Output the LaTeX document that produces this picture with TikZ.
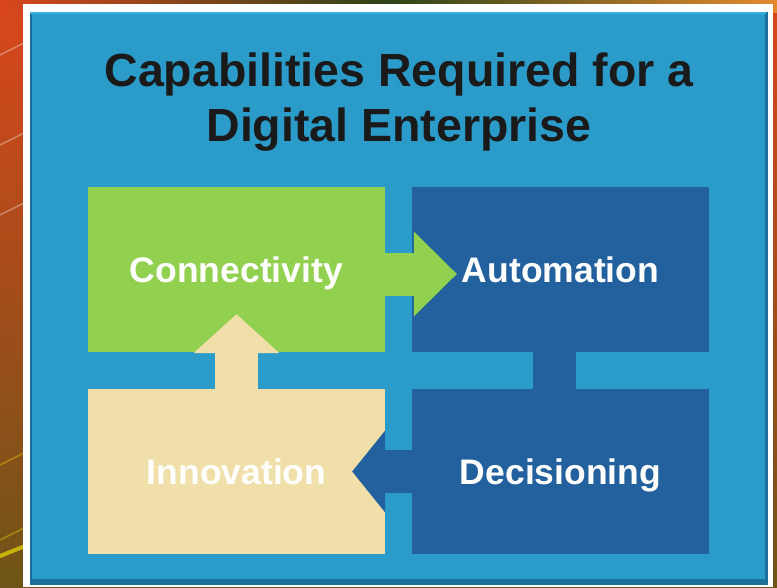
\documentclass[tikz,border=0pt]{standalone}
\usepackage{fontspec}
\setmainfont{Liberation Sans}
\usetikzlibrary{arrows.meta}

\definecolor{panelblue}{HTML}{2B9CC9}
\definecolor{paneledge}{HTML}{1C6F99}
\definecolor{panellight}{HTML}{3CB0E2}
\definecolor{boxblue}{HTML}{22619E}
\definecolor{boxgreen}{HTML}{92D050}
\definecolor{boxbeige}{HTML}{F0DFA9}
\definecolor{titleblack}{HTML}{1A1A1A}
\definecolor{backred}{HTML}{D9461C}
\definecolor{backolive}{HTML}{6E5418}
\definecolor{backgreen}{HTML}{2C4418}
\definecolor{backorange}{HTML}{E48A2E}

\tikzset{
  box/.style={minimum width=297pt, minimum height=165pt, inner sep=0pt,
    text=white, font=\fontsize{35.5}{42}\selectfont\bfseries,
    text height=25.5pt, text depth=0pt},
  title/.style={anchor=north, align=center, inner sep=0pt, text=titleblack,
    font=\fontsize{46.5}{55}\selectfont\bfseries},
  flow/.style={line width=43pt}
}

\begin{document}
\begin{tikzpicture}[x=1pt, y=-1pt]
  \useasboundingbox (0,0) rectangle (777,587);

  \shade[top color=backred, bottom color=backolive] (0,0) rectangle (777,587);
  \shade[left color=backred, right color=backorange, middle color=backgreen] (0,0) rectangle (777,12);
  \foreach \y/\c in {60/white, 150/white, 220/white, 470/yellow, 545/yellow}
    \draw[\c, opacity=0.35, line width=1.5pt] (-10,\y) -- (40,\y-25);
  \draw[yellow, opacity=0.6, line width=4pt] (-10,560) -- (40,540);

  \fill[white] (23,4) rectangle (773,587);
  \fill[paneledge] (30,12) rectangle (768,585);
  \fill[panellight] (30,12) rectangle (766,14);
  \fill[panelblue] (32,14) rectangle (765,579);

  \node[title] (title) at (399,53) {Capabilities Required for a\\Digital Enterprise};

  \node[box, fill=boxgreen] (conn) at (236.5,269.5) {Connectivity};
  \node[box, fill=boxblue] (auto) at (560.5,269.5) {Automation};
  \node[box, fill=boxbeige] (innov) at (236.5,471.5) {Innovation};
  \node[box, fill=boxblue] (decis) at (560.5,471.5) {Decisioning};

  \draw[flow, boxgreen, -{Triangle[length=43pt, width=85pt, line width=0pt]}]
    ([yshift=-4.5pt]conn.east) -- ([xshift=45pt, yshift=-4.5pt]auto.west);
  \draw[flow, boxblue] ([xshift=-6pt]auto.south) -- ([xshift=-6pt]decis.north);
  \draw[flow, boxblue, -{Triangle[length=33pt, width=82pt, line width=0pt]}]
    (decis.west) -- ([xshift=-33pt]innov.east);
  \draw[flow, boxbeige, -{Triangle[length=39pt, width=86pt, line width=0pt]}]
    (innov.north) -- ([yshift=38pt]conn.south);
\end{tikzpicture}
\end{document}
